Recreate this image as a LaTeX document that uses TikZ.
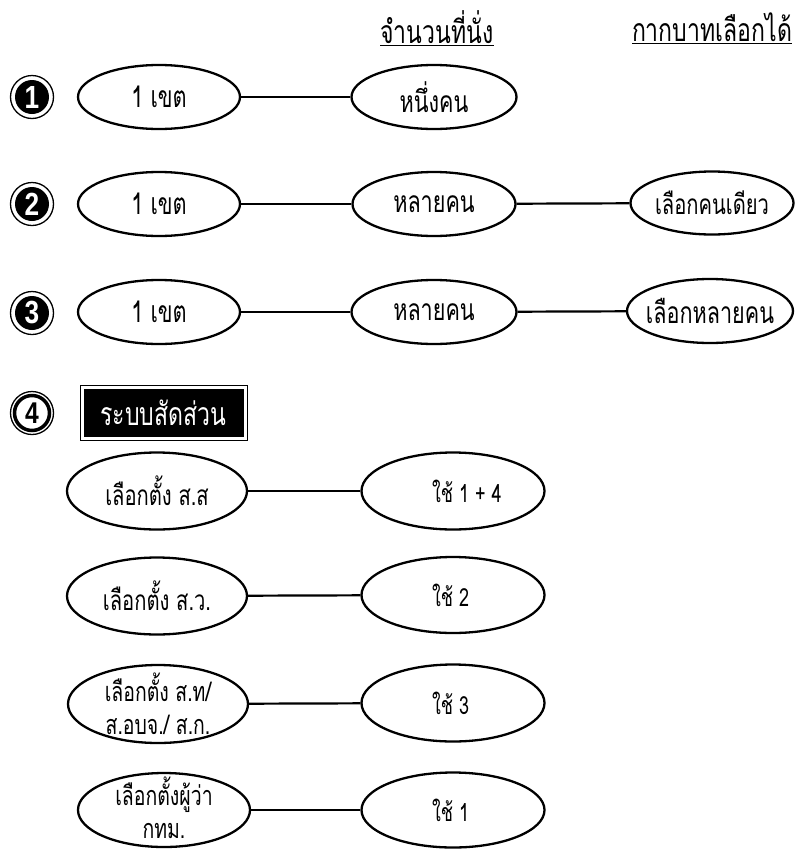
\documentclass[tikz,border=0pt]{standalone}
\usepackage{fontspec}
\usetikzlibrary{shapes.geometric}
\newfontfamily\thai[Script=Thai,FakeStretch=0.72]{Loma}
\newfontfamily\digitfont[FakeStretch=0.82]{Liberation Sans}
\tikzset{
  oval/.style={draw, ellipse, line width=2.3pt, inner sep=0pt},
  txt/.style={inner sep=0pt, align=center, font=\thai\fontsize{30}{31}\selectfont},
  txtnarrow/.style={inner sep=0pt, align=center, font=\thai\fontsize{28}{29}\selectfont},
  txtsm/.style={inner sep=0pt, align=center, font=\thai\fontsize{28}{29}\selectfont},
  txtuse/.style={inner sep=0pt, xshift=-21pt, font=\thai\fontsize{25}{26}\selectfont},
  txttwo/.style={inner sep=0pt, align=center, font=\thai\fontsize{27}{33}\selectfont},
  link/.style={line width=2.2pt},
  numdark/.style={circle, fill=black, text=white, minimum size=34pt, inner sep=0pt,
    font=\digitfont\bfseries\fontsize{32}{32}\selectfont},
  numlight/.style={circle, draw=black, line width=3.5pt, fill=white, text=black, minimum size=35pt,
    inner sep=0pt, font=\digitfont\bfseries\fontsize{30}{30}\selectfont},
  ring/.style={line width=1.3pt},
  head/.style={font=\thai\fontsize{32}{33}\selectfont, inner sep=0pt},
  boxouter/.style={draw=black, line width=0.9pt, minimum width=167pt, minimum height=55pt, inner sep=0pt},
  boxinner/.style={fill=black, text=white, minimum width=160pt, minimum height=48pt, inner sep=0pt,
    font=\thai\fontsize{32}{33}\selectfont}
}
\begin{document}
\begin{tikzpicture}[x=1pt,y=-1pt]
\useasboundingbox[fill=white] (0,0) rectangle (810,849);

% headers
\node[head] (h1) at (437,28) {\underline{จำนวนที่นั่ง}};
\node[head] (h2) at (712,28) {\underline{กากบาทเลือกได้}};

% circled numbers
\node[numdark] (c1) at (32,97) {1};
\draw[ring] (c1.center) circle (21.5pt);
\node[numdark] (c2) at (32,204) {2};
\draw[ring] (c2.center) circle (21.5pt);
\node[numdark] (c3) at (32,313) {3};
\draw[ring] (c3.center) circle (21.5pt);
\node[numlight] (c4) at (32,413) {4};
\draw[ring] (c4.center) circle (21.5pt);

% row 1
\node[oval, minimum width=162pt, minimum height=64pt, label={[txt]center:1 เขต}] (a1) at (159,97) {};
\node[oval, minimum width=165pt, minimum height=64pt, label={[txt]center:หนึ่งคน}] (b1) at (434,97) {};
\draw[link] (a1) -- (b1);

% row 2
\node[oval, minimum width=162pt, minimum height=64pt, label={[txt]center:1 เขต}] (a2) at (159,204) {};
\node[oval, minimum width=163pt, minimum height=64pt, label={[txt]center:หลายคน}] (b2) at (434,204) {};
\node[oval, minimum width=163pt, minimum height=63pt, label={[txtnarrow]center:เลือกคนเดียว}] (cc2) at (712,203) {};
\draw[link] (a2) -- (b2);
\draw[link] (b2) -- (cc2);

% row 3
\node[oval, minimum width=162pt, minimum height=64pt, label={[txt]center:1 เขต}] (a3) at (159,312) {};
\node[oval, minimum width=165pt, minimum height=64pt, label={[txt]center:หลายคน}] (b3) at (434,312) {};
\node[oval, minimum width=166pt, minimum height=64pt, label={[txt]center:เลือกหลายคน}] (cc3) at (710,311) {};
\draw[link] (a3) -- (b3);
\draw[link] (b3) -- (cc3);

% row 4
\node[boxouter] (box) at (163.5,412.5) {};
\node[boxinner] (boxin) at (box.center) {ระบบสัดส่วน};

\node[oval, minimum width=180pt, minimum height=77pt, label={[txtsm]center:เลือกตั้ง ส.ส}] (l1) at (157,491) {};
\node[oval, minimum width=183pt, minimum height=77pt, label={[txtuse]center:\rlap{ใช้ 1 + 4}}] (r1) at (453,491) {};
\draw[link] (l1) -- (r1);

\node[oval, minimum width=180pt, minimum height=77pt, label={[txtsm]center:เลือกตั้ง ส.ว.}] (l2) at (157,596) {};
\node[oval, minimum width=183pt, minimum height=76pt, label={[txtuse]center:\rlap{ใช้ 2}}] (r2) at (453,595) {};
\draw[link] (l2) -- (r2);

\node[oval, minimum width=180pt, minimum height=78pt, label={[txttwo]center:เลือกตั้ง ส.ท/\\ส.อบจ./ ส.ก.}] (l3) at (158,704) {};
\node[oval, minimum width=183pt, minimum height=77pt, label={[txtuse]center:\rlap{ใช้ 3}}] (r3) at (453,703) {};
\draw[link] (l3) -- (r3);

\node[oval, minimum width=172pt, minimum height=74pt, label={[txttwo, yshift=2pt]center:เลือกตั้งผู้ว่า\\กทม.}] (l4) at (164,810) {};
\node[oval, minimum width=183pt, minimum height=75pt, label={[txtuse]center:\rlap{ใช้ 1}}] (r4) at (453,810) {};
\draw[link] (l4) -- (r4);
\end{tikzpicture}
\end{document}
